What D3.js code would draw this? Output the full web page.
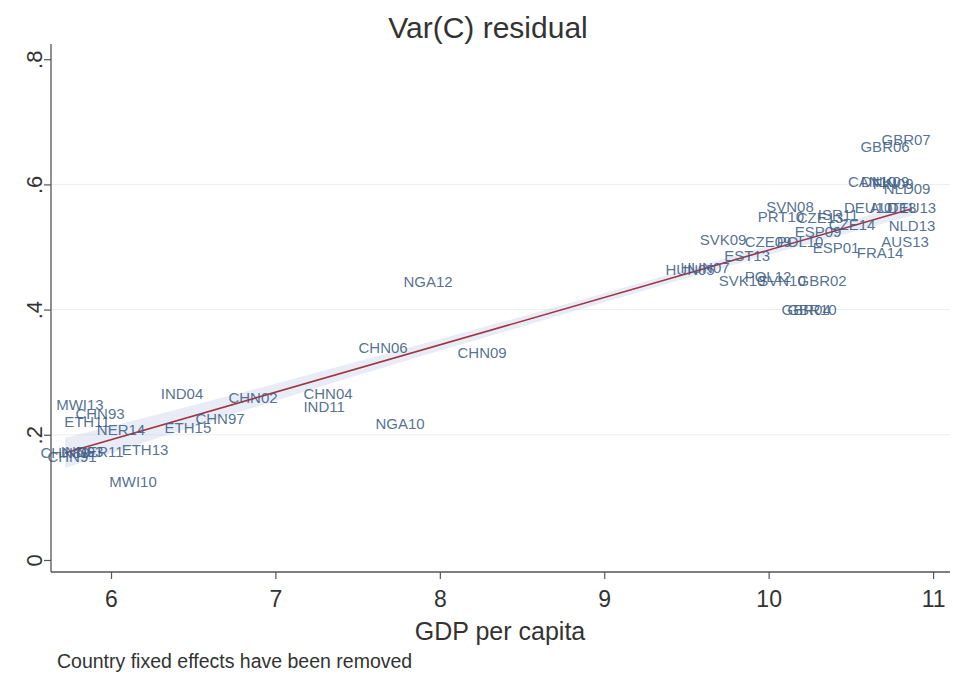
<!DOCTYPE html>
<html>
<head>
<meta charset="utf-8">
<script src="https://cdn.jsdelivr.net/npm/d3@7"></script>
<style>
  html, body { margin: 0; padding: 0; background: #fff; }
  svg { display: block; font-family: "Liberation Sans", Arial, sans-serif; }
</style>
</head>
<body>
<svg id="chart" width="953" height="679"></svg>
<script>
// Country-year labels and their positions (log GDP per capita, Var(C) residual)
const labels = ["GBR07","GBR06","CAN10","DNK09","FIN09","NLD09","SVN08","PRT10","DEU10","AUT13",
  "DEU13","ISR11","CZE13","NLD13","CZE14","ESP09","SVK09","CZE09","POL10","AUS13",
  "ESP01","FRA14","EST13","HUN05","HUN07","SVK10","POL12","SVN10","GBR02","GBR04",
  "GBR10","NGA12","CHN06","CHN09","CHN04","IND11","NGA10","IND04","CHN02","CHN97",
  "ETH15","NER14","ETH13","MWI13","CHN93","ETH11","CHN89","CHN91","IND93","NER11","MWI10"];
const gdp = [10.836,10.708,10.629,10.708,10.757,10.842,10.130,10.075,10.605,10.757,
  10.872,10.422,10.313,10.872,10.507,10.300,9.723,9.996,10.191,10.830,
  10.410,10.678,9.869,9.522,9.613,9.838,9.996,10.081,10.325,10.228,
  10.264,7.928,7.655,8.257,7.320,7.296,7.758,6.432,6.864,6.663,
  6.468,6.061,6.207,5.811,5.933,5.854,5.720,5.763,5.824,5.933,6.134];
const varC = [0.672,0.661,0.605,0.605,0.602,0.594,0.565,0.549,0.563,0.563,
  0.563,0.552,0.547,0.534,0.536,0.525,0.512,0.509,0.509,0.509,
  0.499,0.491,0.486,0.464,0.467,0.446,0.453,0.446,0.446,0.400,
  0.400,0.445,0.339,0.331,0.266,0.245,0.218,0.266,0.259,0.226,
  0.211,0.208,0.176,0.248,0.234,0.222,0.171,0.166,0.173,0.173,0.125];

// Linear fit and its confidence band
const fitX = [5.72, 10.87];
const fitY = [0.171, 0.561];
const ciX  = [5.72, 6.5, 7.5, 8.5, 9.5, 10.2, 10.87];
const ciLo = [0.147, 0.213, 0.295, 0.373, 0.450, 0.502, 0.550];
const ciHi = [0.195, 0.247, 0.317, 0.389, 0.464, 0.518, 0.572];

// Axis ticks
const xTicks = [6, 7, 8, 9, 10, 11];
const yTicks = [0, 0.2, 0.4, 0.6, 0.8];
const yTickLabels = ["0", ".2", ".4", ".6", ".8"];
const gridValues = [0.2, 0.4, 0.6];

const svg = d3.select("#chart");
const plot = { left: 51, right: 950, top: 44, bottom: 572 };

const x = d3.scaleLinear().domain([5.635, 11.103]).range([plot.left, plot.right]);
const y = d3.scaleLinear().domain([-0.0192, 0.8243]).range([plot.bottom, plot.top]);

// Title
svg.append("text")
  .attr("x", 488).attr("y", 38)
  .attr("text-anchor", "middle")
  .attr("font-size", 30).attr("fill", "#333")
  .text("Var(C) residual");

// Horizontal grid
svg.append("g").selectAll("line").data(gridValues).join("line")
  .attr("x1", plot.left).attr("x2", plot.right)
  .attr("y1", d => y(d)).attr("y2", d => y(d))
  .attr("stroke", "#ececec").attr("stroke-width", 1);

// Confidence band
const band = d3.area()
  .x((d, i) => x(ciX[i]))
  .y0((d, i) => y(ciLo[i]))
  .y1((d, i) => y(ciHi[i]))
  .curve(d3.curveMonotoneX);
svg.append("path").datum(ciX)
  .attr("d", band)
  .attr("fill", "#cdd4ec").attr("fill-opacity", 0.45);

// Fitted line
const fitLine = d3.line().x((d, i) => x(fitX[i])).y((d, i) => y(fitY[i]));
svg.append("path").datum(fitX)
  .attr("d", fitLine)
  .attr("fill", "none").attr("stroke", "#a2333f").attr("stroke-width", 1.6);

// Country-year labels
svg.append("g").selectAll("text").data(labels).join("text")
  .attr("x", (d, i) => x(gdp[i]))
  .attr("y", (d, i) => y(varC[i]))
  .attr("text-anchor", "middle")
  .attr("dominant-baseline", "central")
  .attr("font-size", 15)
  .attr("fill", "#3f5f86")
  .attr("fill-opacity", 0.9)
  .text(d => d);

// X axis
const xAxis = d3.axisBottom(x).tickValues(xTicks).tickSize(7).tickPadding(12)
  .tickFormat(d3.format("d"));
const gx = svg.append("g").attr("transform", `translate(0,${plot.bottom})`).call(xAxis);
gx.select(".domain").attr("d", `M${plot.left},0H${plot.right}`).attr("stroke", "#555").attr("stroke-width", 1.3);
gx.selectAll(".tick line").attr("stroke", "#555").attr("stroke-width", 1.2);
gx.selectAll(".tick text").attr("font-size", 23).attr("fill", "#333")
  .attr("font-family", "Liberation Sans, Arial, sans-serif");

// Y axis
const yAxis = d3.axisLeft(y).tickValues(yTicks).tickSize(7).tickPadding(6)
  .tickFormat((d, i) => yTickLabels[i]);
const gy = svg.append("g").attr("transform", `translate(${plot.left},0)`).call(yAxis);
gy.select(".domain").attr("d", `M0,${plot.top}V${plot.bottom}`).attr("stroke", "#555").attr("stroke-width", 1.3);
gy.selectAll(".tick line").attr("stroke", "#555").attr("stroke-width", 1.2);
gy.selectAll(".tick text")
  .attr("font-size", 22).attr("fill", "#333")
  .attr("font-family", "Liberation Sans, Arial, sans-serif")
  .attr("text-anchor", "middle")
  .attr("x", null).attr("dy", null)
  .attr("dominant-baseline", "central")
  .attr("transform", "translate(-17,0) rotate(-90)");

// Axis title
svg.append("text")
  .attr("x", 500).attr("y", 640)
  .attr("text-anchor", "middle")
  .attr("font-size", 25).attr("fill", "#333")
  .text("GDP per capita");

// Note
svg.append("text")
  .attr("x", 57).attr("y", 668)
  .attr("font-size", 19.5).attr("fill", "#333")
  .text("Country fixed effects have been removed");
</script>
</body>
</html>
